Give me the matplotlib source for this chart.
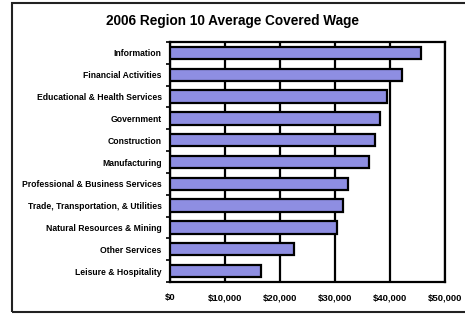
import matplotlib
matplotlib.use("Agg")
import matplotlib.pyplot as plt
from matplotlib.patches import Rectangle

categories = ["Information", "Financial Activities", "Educational & Health Services",
              "Government", "Construction", "Manufacturing",
              "Professional & Business Services", "Trade, Transportation, & Utilities",
              "Natural Resources & Mining", "Other Services", "Leisure & Hospitality"]
wages = [45600, 42100, 39500, 38100, 37300, 36200, 32300, 31500, 30300, 22600, 16500]
xticks = [0, 10000, 20000, 30000, 40000, 50000]
xticklabels = ["$0", "$10,000", "$20,000", "$30,000", "$40,000", "$50,000"]

plt.rcParams['font.family'] = ['Liberation Sans', 'DejaVu Sans']

fig = plt.figure(figsize=(4.65, 3.15), dpi=100)
ax = fig.add_axes([170/465, 1 - 282/315, 275/465, 240/315])

# outer frame around the whole chart
fig.patches.append(Rectangle((12/465, 3/315), 460/465, 309/315, transform=fig.transFigure,
                             fill=False, edgecolor="#222222", linewidth=1.5))

y = list(range(len(categories)))
ax.barh(y, wages, height=0.57, color="#8e8ee2", edgecolor="black", linewidth=1.6, zorder=3)

ax.set_xlim(0, 50000)
ax.set_ylim(len(categories) - 0.5, -0.5)
ax.set_xticks(xticks)
ax.set_xticklabels(xticklabels, fontsize=6.8, fontweight="bold")
ax.set_yticks(y)
ax.set_yticklabels(categories, fontsize=6.2, fontweight="bold")
ax.tick_params(axis="y", length=0, pad=6)
ax.tick_params(axis="x", length=0, pad=8)

# small ticks at category boundaries on the left spine
ax.set_yticks([i + 0.5 for i in range(-1, len(categories))], minor=True)
ax.tick_params(axis="y", which="minor", length=3, width=1.2, direction="out")

ax.grid(axis="x", color="black", linewidth=1.6, zorder=0)
for s in ax.spines.values():
    s.set_linewidth(1.6)

fig.text(0.5, 1 - 21/315, "2006 Region 10 Average Covered Wage", ha="center", va="center",
         fontsize=9.8, fontweight="bold")

fig.savefig("out.png", dpi=100)
